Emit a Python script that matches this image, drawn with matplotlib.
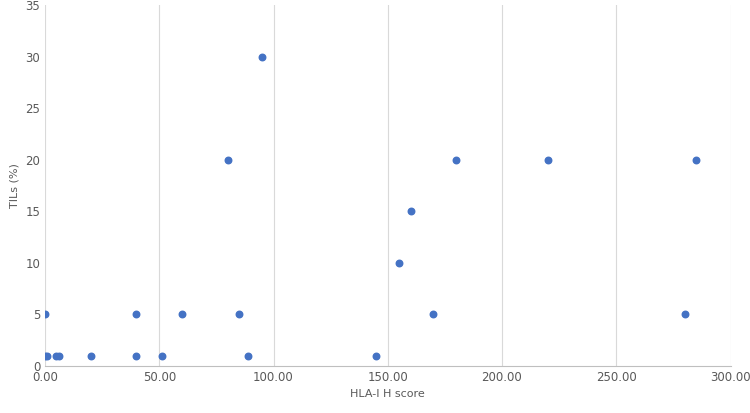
import matplotlib
matplotlib.use("Agg")
import matplotlib.pyplot as plt
from matplotlib.ticker import FormatStrFormatter

hla_score = [0, 1, 5, 6, 20, 40, 51, 89, 145, 0, 40, 60, 85, 170, 280, 80, 180, 220, 285, 95, 160, 155]
tils = [1, 1, 1, 1, 1, 1, 1, 1, 1, 5, 5, 5, 5, 5, 5, 20, 20, 20, 20, 30, 15, 10]

fig = plt.figure(figsize=(7.5, 4.13), dpi=100)
ax = fig.add_axes([0.06, 0.114, 0.914, 0.874])
ax.scatter(hla_score, tils, s=22, color="#4472C4", zorder=3)
ax.set_xlim(0, 300)
ax.set_ylim(0, 35)
ax.set_xticks(range(0, 301, 50))
ax.set_yticks(range(0, 36, 5))
ax.xaxis.set_major_formatter(FormatStrFormatter("%.2f"))
ax.grid(axis="x", color="#D9D9D9", linewidth=0.8)
ax.set_axisbelow(True)
for s in ["top", "right", "left"]:
    ax.spines[s].set_visible(False)
ax.spines["bottom"].set_color("#BFBFBF")
ax.tick_params(length=0, labelsize=8.5, colors="#595959")
ax.set_xlabel("HLA-I H score", fontsize=8, color="#595959")
ax.set_ylabel("TILs (%)", fontsize=8, color="#595959")
fig.savefig("out.png", dpi=100)
